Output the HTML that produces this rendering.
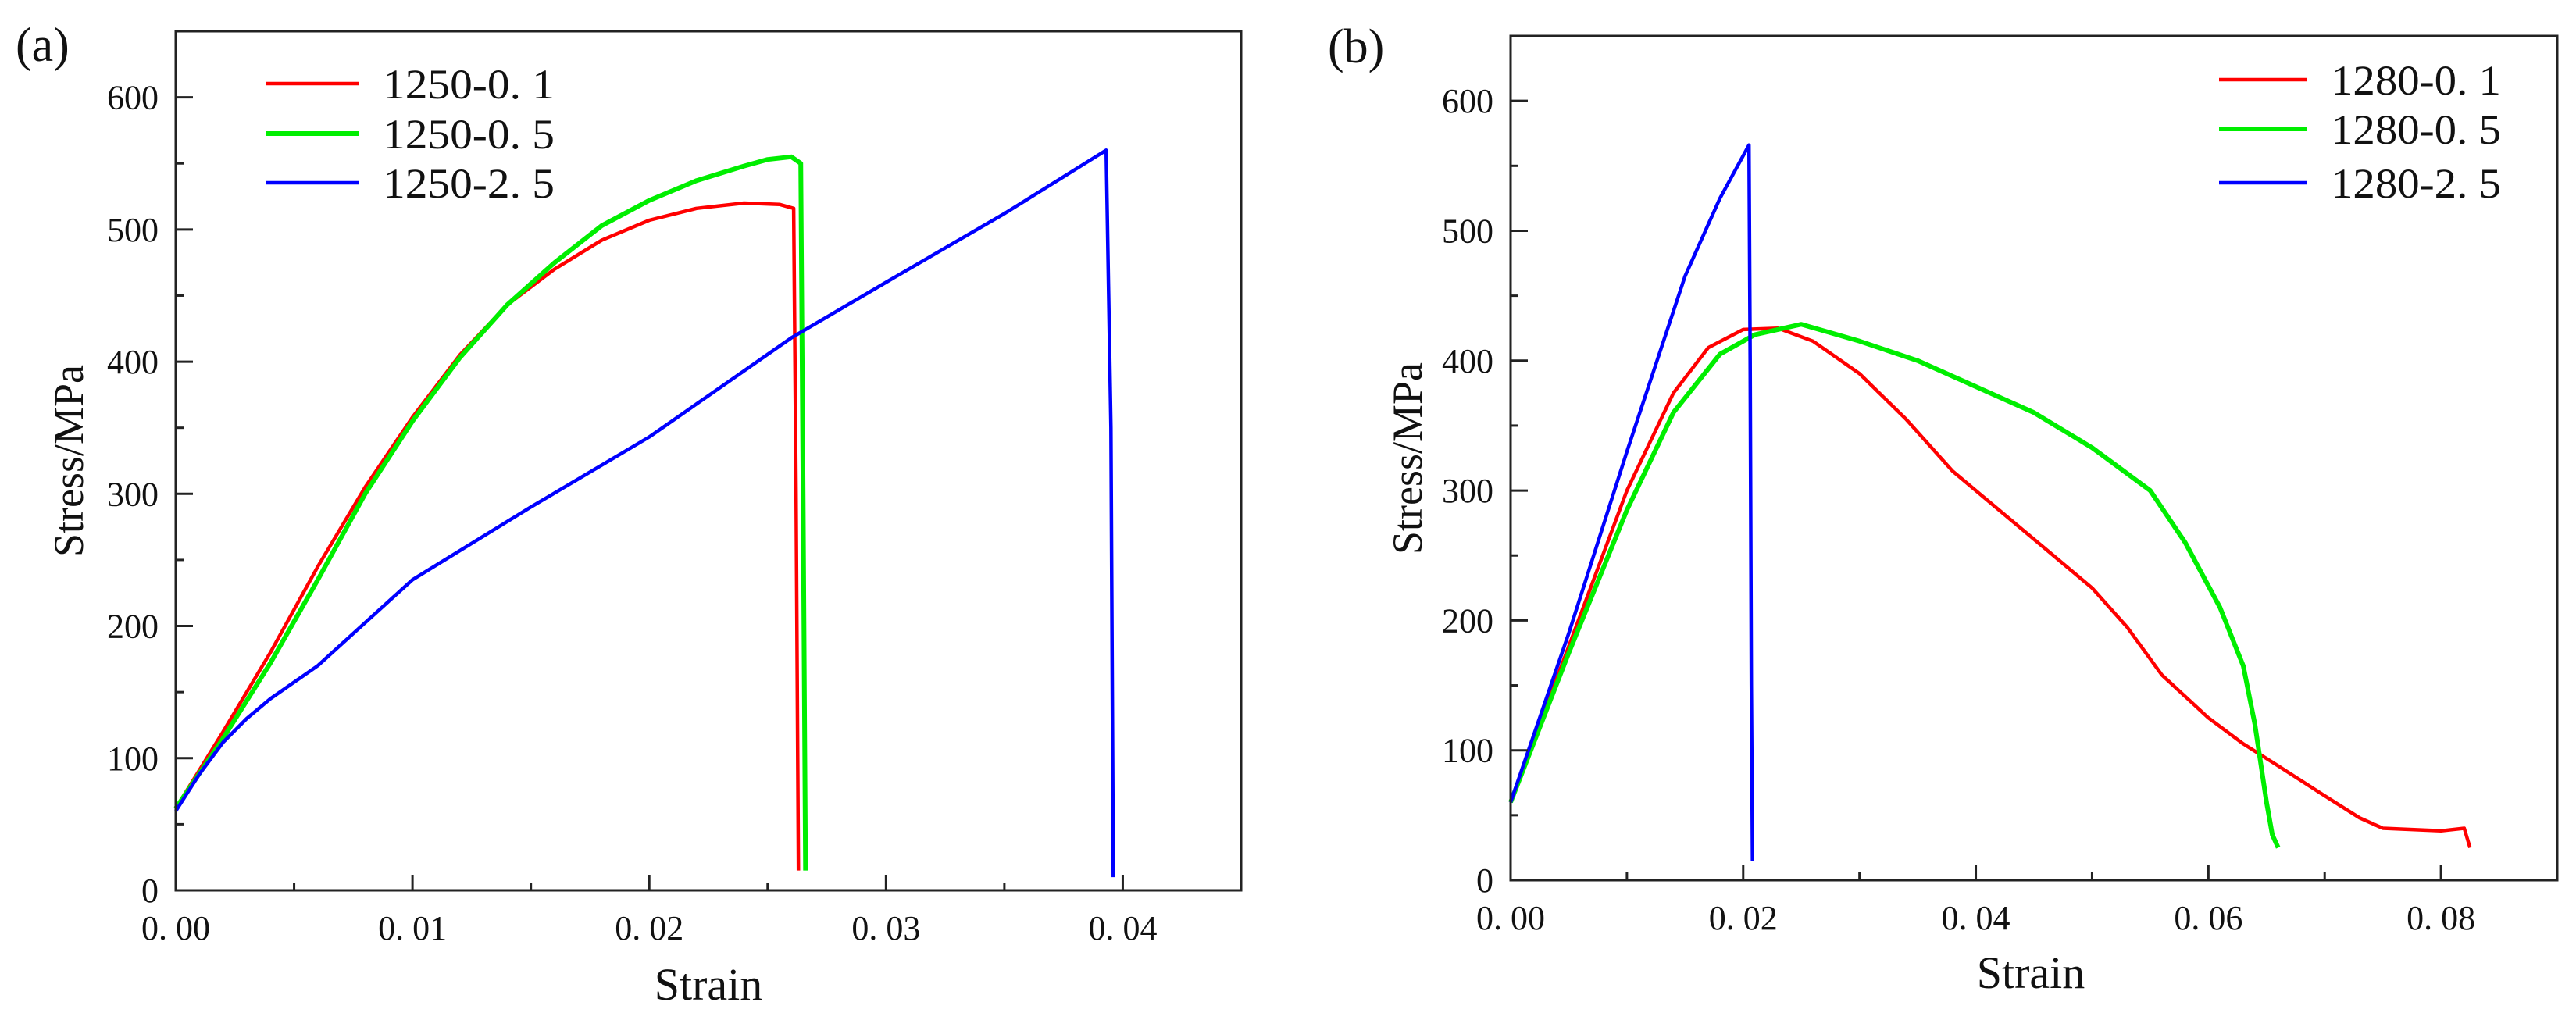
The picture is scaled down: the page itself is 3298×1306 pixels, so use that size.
<!DOCTYPE html>
<html><head><meta charset="utf-8">
<style>
html,body{margin:0;padding:0;background:#fff;}
svg{display:block;}
text{font-family:"Liberation Serif",serif;fill:#111;}
</style></head>
<body>
<svg id="chart" width="3298" height="1306" viewBox="0 0 3298 1306" xmlns="http://www.w3.org/2000/svg">
<text x="20" y="78" font-size="62">(a)</text>
<text x="1700" y="80" font-size="62">(b)</text>
</svg>
<script>
// ---- Panel (a) data ----
const aXTicks = [0, 0.01, 0.02, 0.03, 0.04];
const aXTickLabels = ["0. 00", "0. 01", "0. 02", "0. 03", "0. 04"];
const aYTicks = [0, 100, 200, 300, 400, 500, 600];
const aSeriesNames = ["1250-0. 1", "1250-0. 5", "1250-2. 5"];
const aRedX = [0,0.002,0.004,0.006,0.008,0.010,0.012,0.014,0.016,0.018,0.020,0.022,0.024,0.0255,0.0261,0.0262,0.0263];
const aRedY = [62,120,180,245,305,358,405,443,470,492,507,516,520,519,516,300,15];
const aGreenX = [0,0.002,0.004,0.006,0.008,0.010,0.012,0.014,0.016,0.018,0.020,0.022,0.024,0.025,0.026,0.0264,0.0265,0.0266];
const aGreenY = [62,115,172,235,300,355,403,443,475,503,522,537,548,553,555,550,300,15];
const aBlueX = [0,0.001,0.002,0.003,0.004,0.006,0.010,0.015,0.020,0.026,0.030,0.035,0.0393,0.0395,0.0396];
const aBlueY = [60,88,112,130,145,170,235,290,343,418,460,512,560,350,10];
// ---- Panel (b) data ----
const bXTicks = [0, 0.02, 0.04, 0.06, 0.08];
const bXTickLabels = ["0. 00", "0. 02", "0. 04", "0. 06", "0. 08"];
const bYTicks = [0, 100, 200, 300, 400, 500, 600];
const bSeriesNames = ["1280-0. 1", "1280-0. 5", "1280-2. 5"];
const bRedX = [0,0.005,0.010,0.014,0.017,0.020,0.023,0.026,0.030,0.034,0.038,0.042,0.046,0.050,0.053,0.056,0.060,0.063,0.066,0.070,0.073,0.075,0.080,0.082,0.0825];
const bRedY = [60,180,300,375,410,424,425,415,390,355,315,285,255,225,195,158,125,105,88,65,48,40,38,40,25];
const bGreenX = [0,0.005,0.010,0.014,0.018,0.021,0.025,0.030,0.035,0.040,0.045,0.050,0.055,0.058,0.061,0.063,0.064,0.065,0.0655,0.066];
const bGreenY = [60,175,285,360,405,420,428,415,400,380,360,333,300,260,210,165,120,60,35,25];
const bBlueX = [0,0.005,0.010,0.015,0.018,0.0205,0.0206,0.0207,0.0208];
const bBlueY = [60,190,330,465,525,566,400,150,15];

const NS = "http://www.w3.org/2000/svg";
const svg = document.getElementById('chart');
function mk(tag, attrs, parent){ const e=document.createElementNS(NS,tag); for(const k in attrs) e.setAttribute(k,attrs[k]); (parent||svg).appendChild(e); return e; }

function panel(p){
  const g = mk('g',{});
  
  
  const sx = v => p.L + (v - 0) / p.xmax * (p.R - p.L);
  const sy = v => p.B - v / 650 * (p.B - p.T);
  // series
  const cols = ['#ff0000','#00ee00','#0000ff'];
  const widths = [4.5,6,4.5];
  p.series.forEach((s,i)=>{
    const d = s[0].map((x,j)=>(j?'L':'M')+sx(x).toFixed(1)+' '+sy(s[1][j]).toFixed(1)).join(' ');
    const path = mk('path',{d:d,fill:'none',stroke:cols[i],'stroke-width':widths[i],'stroke-linejoin':'round'},g);
    
    
  });
  // frame
  const fr = mk('rect',{x:p.L,y:p.T,width:p.R-p.L,height:p.B-p.T,fill:'none',stroke:'#222','stroke-width':3},g);
  
  
  // x ticks
  const xstep = p.xTicks[1]-p.xTicks[0];
  for(let k=0; k*xstep/2 <= p.xmax+1e-9; k++){
    const v = k*xstep/2, major = k%2===0, x=sx(v);
    mk('line',{x1:x,x2:x,y1:p.B,y2:p.B-(major?20:10),stroke:'#222','stroke-width':3},g);
  }
  p.xTicks.forEach((v,i)=>{
    const t = mk('text',{x:sx(v),y:p.B+63,'font-size':44,'text-anchor':'middle'},g);
    t.textContent = p.xLabels[i];
    
    
  });
  // y ticks
  for(let v=0; v<=650; v+=50){
    const major = v%100===0, y=sy(v);
    mk('line',{x1:p.L,x2:p.L+(major?22:10),y1:y,y2:y,stroke:'#222','stroke-width':3},g);
  }
  p.yTicks.forEach(v=>{
    const t = mk('text',{x:p.L-22,y:sy(v)+15,'font-size':44,'text-anchor':'end'},g);
    t.textContent = String(v);
    
    
  });
  // axis titles
  const yt = mk('text',{x:0,y:0,'font-size':54,'text-anchor':'middle',transform:'translate('+(p.ytx)+','+(p.yty)+') rotate(-90)'},g);
  yt.textContent = 'Stress/MPa';
  
  
  const xt = mk('text',{x:p.xtx,y:p.xty,'font-size':58,'text-anchor':'middle'},g);
  xt.textContent = 'Strain';
  
  
  // legend
  p.legY.forEach((y,i)=>{
    const ln = mk('line',{x1:p.legX1,x2:p.legX2,y1:y,y2:y,stroke:cols[i],'stroke-width':widths[i]},g);
    
    
    const t = mk('text',{x:p.legTx,y:y+19,'font-size':54,textLength:p.legTw,lengthAdjust:'spacingAndGlyphs'},g);
    t.textContent = p.names[i];
    
    
  });
}

panel({id:'panel-a',L:225,R:1589,T:40,B:1140,xmax:0.045,xTicks:aXTicks,xLabels:aXTickLabels,yTicks:aYTicks,
  series:[[aRedX,aRedY],[aGreenX,aGreenY],[aBlueX,aBlueY]],names:aSeriesNames,
  legY:[107,171,234],legX1:341,legX2:459,legTx:490,legTw:220,ytx:106,yty:590,xtx:907,xty:1280});
panel({id:'panel-b',L:1934,R:3274,T:46,B:1127,xmax:0.09,xTicks:bXTicks,xLabels:bXTickLabels,yTicks:bYTicks,
  series:[[bRedX,bRedY],[bGreenX,bGreenY],[bBlueX,bBlueY]],names:bSeriesNames,
  legY:[102,165,234],legX1:2841,legX2:2954,legTx:2984,legTw:218,ytx:1820,yty:587,xtx:2600,xty:1265});
</script>
</body></html>
